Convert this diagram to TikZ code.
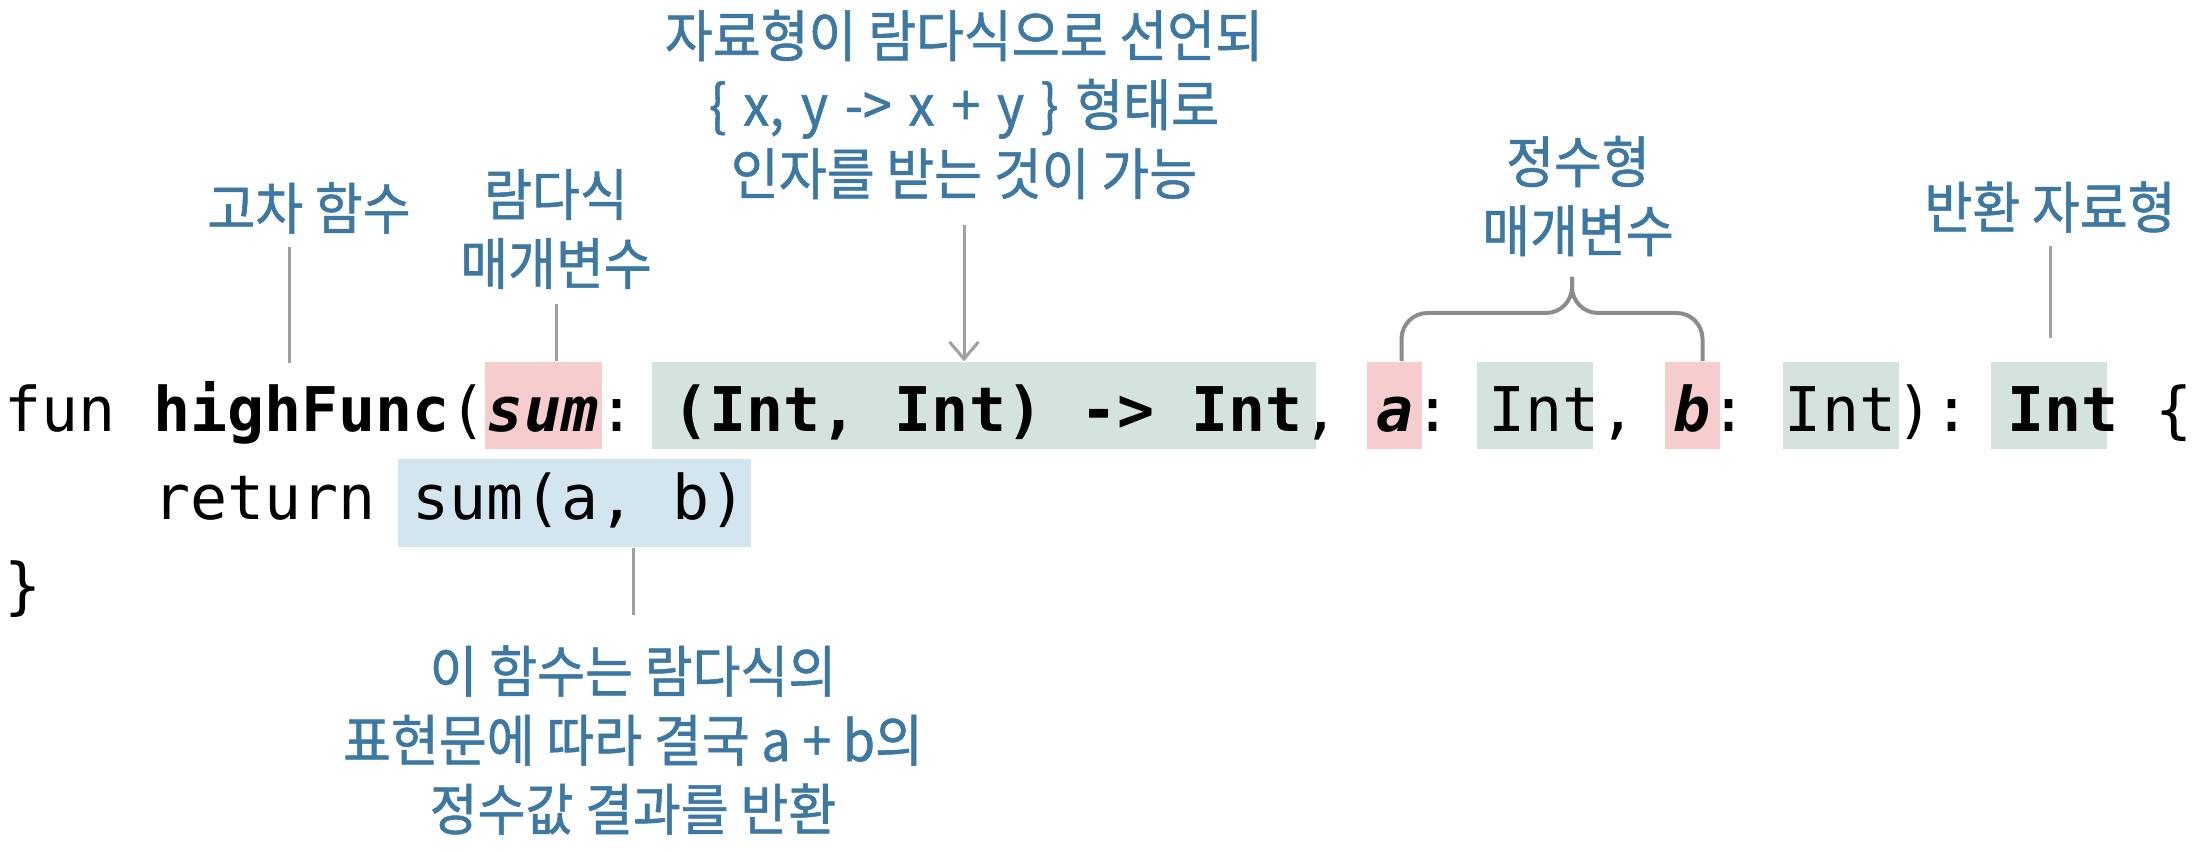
\documentclass[tikz,border=0pt]{standalone}
\usepackage{fontspec}
\setmonofont{DejaVu Sans Mono}
\newfontfamily\krfont[FakeStretch=0.93, FakeBold=1]{Noto Sans CJK KR}
\usetikzlibrary{arrows.meta}

\definecolor{labelblue}{HTML}{3D78A3}
\definecolor{parampink}{HTML}{F6CDCC}
\definecolor{typegreen}{HTML}{D4E3DB}
\definecolor{callblue}{HTML}{D3E6F0}
\definecolor{leadergray}{HTML}{A0A0A0}
\definecolor{bracegray}{HTML}{8C8C8C}

\begin{document}
\frenchspacing
\begin{tikzpicture}[x=0.25pt, y=-0.25pt,
    hl/.style={inner sep=0pt, minimum height=21.75pt},
    code/.style={inner sep=0pt, anchor=base west, font=\ttfamily\fontsize{15.4pt}{22pt}\selectfont},
    lbl/.style={inner sep=0pt, align=center, text=labelblue, font=\krfont\fontsize{14pt}{17.25pt}\selectfont},
    leader/.style={draw=leadergray, line width=0.75pt},
    brace/.style={draw=bracegray, line width=1pt, rounded corners=6.5pt}]
    \useasboundingbox (0,0) rectangle (2194,852);

    \node[hl, fill=parampink, minimum width=29.25pt]  (sumbox)  at ( 543.5, 405.5) {};
    \node[hl, fill=typegreen, minimum width=166pt]    (fnbox)   at ( 984.0, 405.5) {};
    \node[hl, fill=parampink, minimum width=13.75pt]  (abox)    at (1394.5, 405.5) {};
    \node[hl, fill=typegreen, minimum width=29pt]     (aintbox) at (1535.0, 405.5) {};
    \node[hl, fill=parampink, minimum width=13.75pt]  (bbox)    at (1692.5, 405.5) {};
    \node[hl, fill=typegreen, minimum width=29pt]     (bintbox) at (1841.0, 405.5) {};
    \node[hl, fill=typegreen, minimum width=29pt]     (retbox)  at (2049.0, 405.5) {};
    \node[hl, fill=callblue, minimum width=88.25pt, minimum height=22pt] (callbox) at (574.5, 503.0) {};

    \node[code] (line1) at (  4.0, 432) {fun \textbf{highFunc}(\textbf{\textit{sum}}: \textbf{(Int, Int) -> Int}, \textbf{\textit{a}}: Int, \textbf{\textit{b}}: Int): \textbf{Int} \{};
    \node[code] (line2) at (152.4, 520) {return sum(a, b)};
    \node[code] (line3) at (  4.0, 608) {\}};

    \node[lbl] (lblhigh)   at ( 309, 208.0) {고차 함수};
    \node[lbl] (lbllambda) at ( 556, 229.0) {람다식\\매개변수};
    \node[lbl] (lbltype)   at ( 964, 104.5) {자료형이 람다식으로 선언되\\{\spaceskip=4.2pt \{ x, y -> x + y \} 형태로}\\인자를 받는 것이 가능};
    \node[lbl] (lblint)    at (1578, 196.0) {정수형\\매개변수};
    \node[lbl] (lblret)    at (2050, 207.0) {반환 자료형};
    \node[lbl] (lblresult) at ( 633, 740.0) {이 함수는 람다식의\\표현문에 따라 결국 a + b의\\정수값 결과를 반환};

    \coordinate (hf)     at ( 289, 363);
    \coordinate (inttip) at (1572, 277);

    \draw[leader, shorten <=3.25pt] (lblhigh.south -| hf) -- (hf);
    \draw[leader, shorten <=3.5pt] (lbllambda.south) -- (lbllambda.south |- sumbox.north);
    \draw[leader, shorten <=6.25pt, -{Straight Barb[length=4.25pt, width=7.25pt]}] (lbltype.south) -- (lbltype.south |- fnbox.north);

    \draw[brace] ([xshift=1.75pt]abox.north) |- ([yshift=-9pt]inttip) -- (inttip);
    \draw[brace] (inttip) -- ([yshift=-9pt]inttip) -| ([xshift=2.5pt]bbox.north);

    \draw[leader, shorten <=3.25pt, shorten >=5.75pt] (lblret.south) -- (lblret.south |- retbox.north);
    \draw[leader, shorten <=7.5pt] (lblresult.north) -- (lblresult.north |- callbox.south);
\end{tikzpicture}
\end{document}
